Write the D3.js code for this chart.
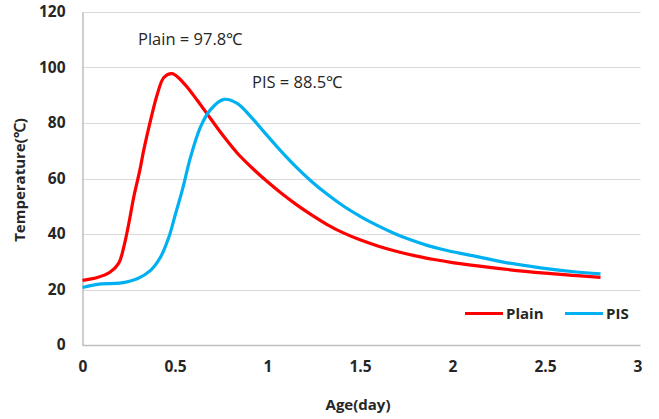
<!DOCTYPE html>
<html>
<head>
<meta charset="utf-8">
<script src="https://cdn.jsdelivr.net/npm/d3@7"></script>
<style>
  html, body { margin: 0; padding: 0; background: #fff; }
  svg { display: block; }
</style>
</head>
<body>
<svg id="chart" width="659" height="419"></svg>
<script>
// ---- data ----
const plainAge  = [0, 0.08, 0.15, 0.196, 0.223, 0.25, 0.277, 0.31, 0.331, 0.368, 0.404, 0.44, 0.485, 0.548, 0.62, 0.692, 0.764, 0.836, 0.92, 1.0, 1.08, 1.16, 1.24, 1.32, 1.41, 1.5, 1.6, 1.7, 1.8, 1.9, 2.0, 2.1, 2.3, 2.5, 2.65, 2.8];
const plainTemp = [23.3, 24.3, 26.3, 29.5, 35.3, 43.7, 53.3, 63.0, 70.2, 81.0, 90.3, 96.4, 97.8, 94.3, 88.2, 81.6, 75.1, 69.2, 63.6, 58.8, 54.4, 50.4, 46.8, 43.5, 40.4, 37.9, 35.6, 33.7, 32.1, 30.8, 29.7, 28.8, 27.2, 25.9, 25.1, 24.4];
const pisAge    = [0, 0.1, 0.2, 0.296, 0.368, 0.422, 0.467, 0.503, 0.539, 0.584, 0.638, 0.692, 0.764, 0.836, 0.908, 0.98, 1.052, 1.142, 1.232, 1.323, 1.412, 1.503, 1.593, 1.683, 1.773, 1.863, 1.953, 2.043, 2.115, 2.296, 2.476, 2.656, 2.8];
const pisTemp   = [20.7, 22.0, 22.3, 23.9, 26.9, 31.7, 38.9, 47.3, 55.7, 67.7, 78.6, 84.8, 88.5, 87.1, 82.4, 76.9, 71.4, 65.0, 59.3, 54.3, 50.0, 46.3, 43.1, 40.3, 37.9, 35.9, 34.3, 33.0, 32.1, 29.6, 27.8, 26.4, 25.6];
const seriesNames = ["Plain", "PIS"];
const seriesColors = ["#ff0000", "#00b0f0"];
const xTicks = [0, 0.5, 1, 1.5, 2, 2.5, 3];
const yTicks = [0, 20, 40, 60, 80, 100, 120];
const annotations = ["Plain = 97.8℃", "PIS = 88.5℃"];
const xTitle = "Age(day)";
const yTitle = "Temperature(℃)";

// ---- layout ----
const svg = d3.select("#chart");
const pLeft = 82.5, pRight = 637.5, pTop = 12, pBottom = 345;
const x = d3.scaleLinear().domain([0, 3]).range([pLeft, pRight]);
const y = d3.scaleLinear().domain([0, 120]).range([pBottom, pTop]);
const font = "'Open Sans', 'Liberation Sans', sans-serif";

// gridlines
svg.append("g").selectAll("line").data(yTicks.filter(t => t > 0)).join("line")
  .attr("x1", pLeft).attr("x2", pRight + 3)
  .attr("y1", d => Math.round(y(d)) + 0.5).attr("y2", d => Math.round(y(d)) + 0.5)
  .attr("stroke", "#d9d9d9").attr("stroke-width", 1.2);

// axes
const yAxis = d3.axisLeft(y).tickValues(yTicks).tickSize(0).tickPadding(17).tickFormat(d3.format("d"));
const gy = svg.append("g").attr("transform", `translate(${pLeft},0)`).call(yAxis);
gy.select(".domain").attr("stroke", "#bfbfbf").attr("stroke-width", 1.5);
gy.selectAll("text").attr("font-family", font).attr("font-weight", "bold").attr("font-size", 15.5).attr("fill", "#262626");

const xAxis = d3.axisBottom(x).tickValues(xTicks).tickSize(0).tickPadding(16).tickFormat(d => d3.format("")(d));
const gx = svg.append("g").attr("transform", `translate(0,${pBottom})`).call(xAxis);
gx.select(".domain").attr("stroke", "#bfbfbf").attr("stroke-width", 1.5).attr("d", `M${pLeft},0.5H${pRight + 3}`);
gx.selectAll("text").attr("font-family", font).attr("font-weight", "bold").attr("font-size", 15.5).attr("fill", "#262626");

// axis titles
svg.append("text").attr("x", 358).attr("y", 410).attr("text-anchor", "middle")
  .attr("font-family", font).attr("font-weight", "bold").attr("font-size", 15).attr("fill", "#262626").text(xTitle);
svg.append("text").attr("transform", "translate(25,180) rotate(-90)").attr("text-anchor", "middle")
  .attr("font-family", font).attr("font-weight", "bold").attr("font-size", 15).attr("fill", "#262626").text(yTitle);

// lines
const line = d3.line().x(d => x(d[0])).y(d => y(d[1])).curve(d3.curveCatmullRom.alpha(0.5));
const series = [
  plainAge.map((a, i) => [a, plainTemp[i]]),
  pisAge.map((a, i) => [a, pisTemp[i]])
];
svg.append("g").selectAll("path").data(series).join("path")
  .attr("d", line).attr("fill", "none")
  .attr("stroke", (d, i) => seriesColors[i]).attr("stroke-width", 3.2)
  .attr("stroke-linejoin", "round").attr("stroke-linecap", "butt");

// annotations
svg.append("text").attr("x", 138).attr("y", 45).attr("font-family", font).attr("font-size", 16.5).attr("fill", "#262626").text(annotations[0]);
svg.append("text").attr("x", 252).attr("y", 88).attr("font-family", font).attr("font-size", 16.5).attr("fill", "#262626").text(annotations[1]);

// legend
const legendX = [465, 565];
const lg = svg.append("g");
seriesNames.forEach((name, i) => {
  lg.append("line").attr("x1", legendX[i]).attr("x2", legendX[i] + 38).attr("y1", 313.5).attr("y2", 313.5)
    .attr("stroke", seriesColors[i]).attr("stroke-width", 3.2);
  lg.append("text").attr("x", legendX[i] + 41).attr("y", 319).attr("font-family", font).attr("font-weight", "bold")
    .attr("font-size", 15).attr("fill", "#262626").text(name);
});
</script>
</body>
</html>
